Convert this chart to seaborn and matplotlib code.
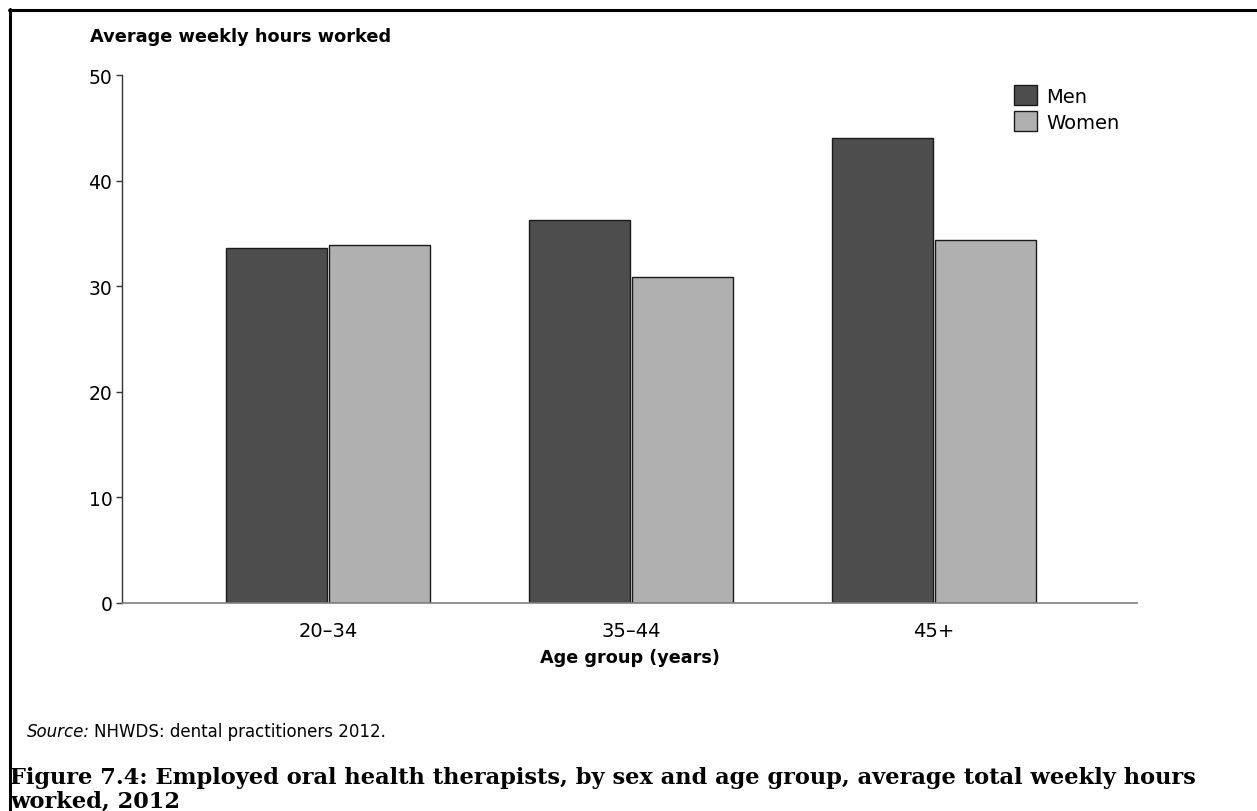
import matplotlib
matplotlib.use("Agg")
import matplotlib.pyplot as plt
from matplotlib.lines import Line2D
import pandas as pd
import seaborn as sns

# Average total weekly hours worked by employed oral health therapists, 2012
age_groups = ["20–34", "35–44", "45+"]
sexes = ["Men", "Women"]
men_hours = [33.6, 36.3, 44.0]
women_hours = [33.9, 30.9, 34.4]
y_ticks = [0, 10, 20, 30, 40, 50]
bar_colors = {"Men": "#4d4d4d", "Women": "#b0b0b0"}

df = pd.DataFrame({
    "age": age_groups * 2,
    "sex": ["Men"] * len(age_groups) + ["Women"] * len(age_groups),
    "hours": men_hours + women_hours,
})

sns.set_theme(style="white")
plt.rcParams["font.family"] = ["DejaVu Sans"]
plt.rcParams["text.color"] = "black"
plt.rcParams["axes.labelcolor"] = "black"

W, H = 1257, 812
fig = plt.figure(figsize=(W / 100, H / 100), dpi=100)
fig.patch.set_facecolor("white")

# axes box in pixel terms: x 122..1137, y 76..604
ax = fig.add_axes([122 / W, 1 - 604 / H, (1137 - 122) / W, (604 - 76) / H])
sns.barplot(
    data=df, x="age", y="hours", hue="sex",
    order=age_groups, hue_order=sexes, palette=bar_colors,
    width=0.68, gap=0.02, saturation=1, errorbar=None,
    edgecolor="#1a1a1a", linewidth=1.0, ax=ax,
)

ax.set_xlim(-0.68, 2.67)
ax.set_ylim(0, 50)
ax.set_yticks(y_ticks)
ax.set_facecolor("white")

for side in ("top", "right"):
    ax.spines[side].set_visible(False)
ax.spines["left"].set_color("#333333")
ax.spines["left"].set_linewidth(1.0)
ax.spines["bottom"].set_color("#808080")
ax.spines["bottom"].set_linewidth(1.2)

ax.tick_params(axis="y", which="both", left=True, direction="out", length=4,
               width=1, color="#333333", pad=3, labelsize=13.5, labelcolor="black")
ax.tick_params(axis="x", bottom=False, pad=7, labelsize=14, labelcolor="black")

ax.set_ylabel("")
ax.set_xlabel("Age group (years)", fontsize=12.7, fontweight="bold",
              color="black", labelpad=6)

fig.text(90 / W, 1 - 42 / H, "Average weekly hours worked", fontsize=12.8,
         fontweight="bold", color="black", ha="left", va="baseline")

# legend
handles, labels = ax.get_legend_handles_labels()
leg = ax.legend(handles, labels, loc="upper left",
                bbox_to_anchor=(1014 / W, 1 - 86 / H), bbox_transform=fig.transFigure,
                frameon=False, fontsize=14, handlelength=1.2, handleheight=1.2,
                handletextpad=0.45, labelspacing=0.3, borderpad=0, borderaxespad=0)
for txt in leg.get_texts():
    txt.set_color("black")

# source note: italic lead-in followed by the plain text
src_y = 1 - 737 / H
lead = fig.text(27 / W, src_y, "Source:", fontsize=12, style="italic",
                color="black", ha="left", va="baseline")
fig.canvas.draw()
lead_end = lead.get_window_extent(fig.canvas.get_renderer()).x1
fig.text((lead_end + 4) / W, src_y, "NHWDS: dental practitioners 2012.",
         fontsize=12, color="black", ha="left", va="baseline")

# figure caption
cap_font = dict(fontsize=16.2, fontweight="bold", family="DejaVu Serif",
                color="black", ha="left", va="baseline")
fig.text(10 / W, 1 - 784 / H,
         "Figure 7.4: Employed oral health therapists, by sex and age group, "
         "average total weekly hours", **cap_font)
fig.text(10 / W, 1 - 808 / H, "worked, 2012", **cap_font)

# open frame: top and left rules
fig.add_artist(Line2D([9 / W, 1.0], [1 - 11 / H, 1 - 11 / H],
                      transform=fig.transFigure, color="black", linewidth=2.2))
fig.add_artist(Line2D([10 / W, 10 / W], [1 - 10 / H, 1 - 812 / H],
                      transform=fig.transFigure, color="black", linewidth=2.2))

fig.savefig("out.png", dpi=100, facecolor="white")
